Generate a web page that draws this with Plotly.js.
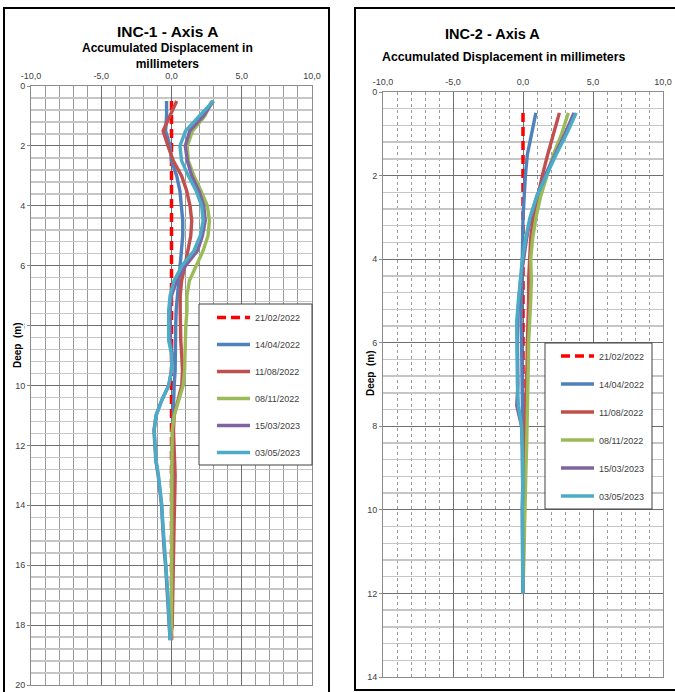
<!DOCTYPE html>
<html>
<head>
<meta charset="utf-8">
<script src="https://cdn.plot.ly/plotly-3.0.1.min.js"></script>
<style>html,body{margin:0;padding:0;background:#fff;}#chart{width:675px;height:692px;}</style>
</head>
<body>
<div id="chart"></div>
<script>
// ---------- DATA ----------
var SERIES_NAMES = ["21/02/2022", "14/04/2022", "11/08/2022", "08/11/2022", "15/03/2023", "03/05/2023"];
var X_TICK_VALS = [-10, -5, 0, 5, 10];
var X_TICK_TEXT = ["-10,0", "-5,0", "0,0", "5,0", "10,0"];

// INC-1 depths (m)
var inc1Depth = [0.5, 1.0, 1.5, 2.0, 2.5, 3.0, 3.5, 4.0, 4.5, 5.0, 5.5, 6.0, 6.5, 7.0, 7.5, 8.0, 8.5, 9.0, 9.5,
                 10.0, 10.5, 11.0, 11.5, 12.0, 12.5, 13.0, 13.5, 14.0, 14.5, 15.0, 15.5, 16.0, 16.5, 17.0, 17.5, 18.0, 18.5];
var inc1_210222 = [0, 0, 0, 0, 0, 0, 0, 0, 0, 0, 0, 0, 0, 0, 0, 0, 0, 0, 0,
                   0, 0, 0, 0, 0, 0, 0, 0, 0, 0, 0, 0, 0, 0, 0, 0, 0, 0];
var inc1_140422 = [-0.35, -0.35, -0.42, -0.1, 0.0, 0.37, 0.6, 0.72, 0.8, 0.8, 0.7, 0.6, 0.48, 0.4, 0.33, 0.3, 0.3, 0.3, 0.26,
                   0.19, 0.14, 0.1, 0.05, 0.05, 0.05, 0.07, 0.07, 0.05, 0.05, 0.05, 0.03, 0.03, 0.03, 0.02, 0.02, 0.0, -0.05];
var inc1_110822 = [0.37, -0.1, -0.6, -0.25, 0.13, 0.72, 1.08, 1.32, 1.44, 1.37, 1.18, 0.96, 0.72, 0.62, 0.62, 0.62, 0.66, 0.73, 0.78,
                   0.73, 0.43, 0.19, 0.14, 0.19, 0.24, 0.26, 0.24, 0.19, 0.19, 0.17, 0.15, 0.14, 0.12, 0.1, 0.07, 0.05, -0.05];
var inc1_081122 = [2.86, 2.38, 1.5, 1.12, 1.2, 1.6, 2.1, 2.55, 2.7, 2.6, 2.25, 1.74, 1.27, 1.1, 1.1, 1.02, 1.0, 1.0, 0.93,
                   0.83, 0.5, 0.19, 0.05, 0.02, 0.02, 0.02, 0.02, 0.02, 0.02, 0.02, 0.02, 0.02, 0.02, 0.02, 0.0, 0.0, -0.05];
var inc1_150323 = [2.98, 2.27, 1.3, 0.98, 1.13, 1.44, 1.95, 2.3, 2.4, 2.2, 1.85, 1.0, 0.37, 0.0, -0.1, -0.1, -0.1, 0.07, 0.0,
                   -0.2, -0.7, -1.1, -1.25, -1.18, -1.12, -0.95, -0.82, -0.71, -0.65, -0.6, -0.52, -0.42, -0.35, -0.28, -0.2, -0.14, -0.1];
var inc1_030523 = [2.98, 1.95, 1.0, 0.6, 0.72, 1.2, 1.75, 2.15, 2.25, 2.05, 1.6, 0.75, 0.18, -0.1, -0.2, -0.2, -0.2, 0.02, 0.0,
                   -0.2, -0.7, -1.1, -1.23, -1.16, -1.1, -0.93, -0.8, -0.69, -0.63, -0.57, -0.48, -0.4, -0.33, -0.26, -0.19, -0.13, -0.1];

// INC-2 depths (m)
var inc2Depth = [0.5, 1.0, 1.5, 2.0, 2.5, 3.0, 3.5, 4.0, 4.5, 5.0, 5.5, 6.0, 6.5, 7.0, 7.5, 8.0, 8.5, 9.0, 9.5, 10.0, 10.5, 11.0, 11.5, 12.0];
var inc2_210222 = [0, 0, 0, 0, 0, 0, 0, 0, 0, 0, 0, 0, 0, 0, 0, 0, 0, 0, 0, 0, 0, 0, 0, 0];
var inc2_140422 = [0.92, 0.62, 0.31, 0.17, 0.07, 0.0, -0.02, -0.05, -0.1, -0.14, -0.14, -0.1, -0.07, -0.05, -0.02, 0.02, 0.02, 0.02, 0.02, 0.02, 0.02, 0.0, 0.0, 0.0];
var inc2_110822 = [2.6, 2.17, 1.76, 1.38, 1.05, 0.74, 0.55, 0.45, 0.4, 0.4, 0.33, 0.31, 0.29, 0.26, 0.21, 0.14, 0.1, 0.07, 0.05, 0.07, 0.05, 0.05, 0.02, 0.0];
var inc2_081122 = [3.24, 2.76, 2.17, 1.69, 1.26, 0.93, 0.69, 0.55, 0.6, 0.55, 0.45, 0.4, 0.38, 0.36, 0.31, 0.29, 0.26, 0.21, 0.17, 0.17, 0.1, 0.07, 0.05, 0.0];
var inc2_150323 = [3.64, 3.0, 2.29, 1.57, 0.98, 0.55, 0.26, 0.02, -0.17, -0.3, -0.4, -0.4, -0.38, -0.36, -0.45, -0.1, -0.05, -0.02, -0.02, -0.05, -0.02, -0.05, -0.02, 0.0];
var inc2_030523 = [3.8, 3.12, 2.36, 1.64, 0.98, 0.5, 0.19, -0.05, -0.22, -0.33, -0.45, -0.45, -0.45, -0.4, -0.33, -0.1, -0.05, -0.02, -0.02, -0.05, -0.02, -0.05, -0.02, 0.0];

// ---------- STYLE ----------
var COLORS = ["#FF0000", "#4F81BD", "#C0504D", "#9BBB59", "#8064A2", "#4BACC6"];
var FONT = "Liberation Sans, Arial, sans-serif";
var W = 675, H = 692;
function fx(p) { return p / W; }
function fy(p) { return 1 - p / H; }

var inc1Series = [inc1_210222, inc1_140422, inc1_110822, inc1_081122, inc1_150323, inc1_030523];
var inc2Series = [inc2_210222, inc2_140422, inc2_110822, inc2_081122, inc2_150323, inc2_030523];

var traces = [];
function addTraces(series, depth, xa, ya, legendId, prefix) {
  series.forEach(function (vals, i) {
    traces.push({
      type: "scatter", mode: "lines",
      x: vals, y: depth, xaxis: xa, yaxis: ya,
      name: SERIES_NAMES[i],
      legend: legendId,
      legendgroup: prefix + i,
      line: { color: COLORS[i], width: i === 0 ? 3.5 : 3.4, dash: i === 0 ? "9px,5px" : "solid" },
      hoverinfo: "skip"
    });
  });
}
addTraces(inc1Series, inc1Depth, "x", "y", "legend", "a");
addTraces(inc2Series, inc2Depth, "x2", "y2", "legend2", "b");

function xAxis(domain, anchor, dotted) {
  return {
    domain: domain, anchor: anchor, range: [-10, 10], side: "top",
    tickmode: "array", tickvals: X_TICK_VALS, ticktext: X_TICK_TEXT,
    ticks: "", ticklabelstandoff: 2, tickfont: { family: FONT, size: 9, color: "#404040" },
    showgrid: true, gridcolor: "#6e6e6e", gridwidth: 1,
    minor: { dtick: 1, tick0: 0, showgrid: true, gridcolor: "#9a9a9a", gridwidth: 1, griddash: dotted ? "dot" : "solid", ticks: "" },
    zeroline: false, showline: true, linecolor: "#8c8c8c", linewidth: 1, mirror: true, fixedrange: true
  };
}
function yAxis(domain, anchor, maxDepth) {
  return {
    domain: domain, anchor: anchor, range: [maxDepth, 0],
    tick0: 0, dtick: 2, ticks: "outside", ticklen: 3, tickcolor: "#8c8c8c",
    tickfont: { family: FONT, size: 9, color: "#404040" },
    showgrid: true, gridcolor: "#6e6e6e", gridwidth: 1,
    minor: { dtick: 0.4, tick0: 0, showgrid: true, gridcolor: "#c6c6c6", gridwidth: 1.5, ticks: "" },
    zeroline: false, showline: true, linecolor: "#8c8c8c", linewidth: 1, mirror: true, fixedrange: true
  };
}

function legendBox(x0, y0, x1, y1) {
  return { type: "rect", xref: "paper", yref: "paper", x0: fx(x0), x1: fx(x1), y0: fy(y0), y1: fy(y1),
           line: { color: "#404040", width: 1 }, fillcolor: "#ffffff", layer: "above" };
}

var layout = {
  width: W, height: H,
  margin: { l: 0, r: 0, t: 0, b: 0 },
  paper_bgcolor: "#ffffff", plot_bgcolor: "#ffffff",
  showlegend: true,
  font: { family: FONT },
  xaxis: xAxis([fx(31), fx(312)], "y", false),
  yaxis: yAxis([fy(685), fy(86)], "x", 20),
  xaxis2: xAxis([fx(383), fx(663)], "y2", true),
  yaxis2: yAxis([fy(677), fy(92)], "x2", 14),
  legend: {
    x: fx(212), y: fy(303), xanchor: "left", yanchor: "top", itemwidth: 33,
    bgcolor: "rgba(0,0,0,0)", borderwidth: 0, traceorder: "grouped", tracegroupgap: 8,
    font: { family: FONT, size: 9, color: "#404040" }
  },
  legend2: {
    x: fx(556), y: fy(341.5), xanchor: "left", yanchor: "top", itemwidth: 33,
    bgcolor: "rgba(0,0,0,0)", borderwidth: 0, traceorder: "grouped", tracegroupgap: 9,
    font: { family: FONT, size: 9, color: "#404040" }
  },
  shapes: [
    { type: "rect", xref: "paper", yref: "paper", x0: fx(4), x1: fx(329), y0: fy(8), y1: fy(696),
      line: { color: "#000000", width: 2 }, fillcolor: "rgba(0,0,0,0)", layer: "above" },
    { type: "rect", xref: "paper", yref: "paper", x0: fx(355), x1: fx(678), y0: fy(8), y1: fy(690),
      line: { color: "#000000", width: 2 }, fillcolor: "rgba(0,0,0,0)", layer: "above" },
    legendBox(199, 304, 312, 465),
    legendBox(545, 343, 652, 509)
  ],
  annotations: [
    { text: "<b>INC-1 - Axis A</b>", xref: "paper", yref: "paper", x: fx(167), y: fy(31), xanchor: "center", yanchor: "middle",
      showarrow: false, font: { family: FONT, size: 15.5, color: "#000" } },
    { text: "<b>Accumulated Displacement in<br>millimeters</b>", xref: "paper", yref: "paper", x: fx(167), y: fy(56.5), xanchor: "center", yanchor: "middle",
      showarrow: false, font: { family: FONT, size: 12, color: "#000" } },
    { text: "<b>INC-2 - Axis A</b>", xref: "paper", yref: "paper", x: fx(492), y: fy(34), xanchor: "center", yanchor: "middle",
      showarrow: false, font: { family: FONT, size: 14.5, color: "#000" } },
    { text: "<b>Accumulated Displacement in millimeters</b>", xref: "paper", yref: "paper", x: fx(503), y: fy(57), xanchor: "center", yanchor: "middle",
      showarrow: false, font: { family: FONT, size: 12.3, color: "#000" } },
    { text: "<b>Deep\u00a0 (m)</b>", xref: "paper", yref: "paper", x: fx(17), y: fy(345), xanchor: "center", yanchor: "middle",
      textangle: -90, showarrow: false, bgcolor: "#ffffff", borderpad: 1, font: { family: FONT, size: 10, color: "#000" } },
    { text: "<b>Deep\u00a0 (m)</b>", xref: "paper", yref: "paper", x: fx(370), y: fy(373), xanchor: "center", yanchor: "middle",
      textangle: -90, showarrow: false, font: { family: FONT, size: 10, color: "#000" } }
  ]
};

Plotly.newPlot("chart", traces, layout, { staticPlot: true, displayModeBar: false });
</script>
</body>
</html>
